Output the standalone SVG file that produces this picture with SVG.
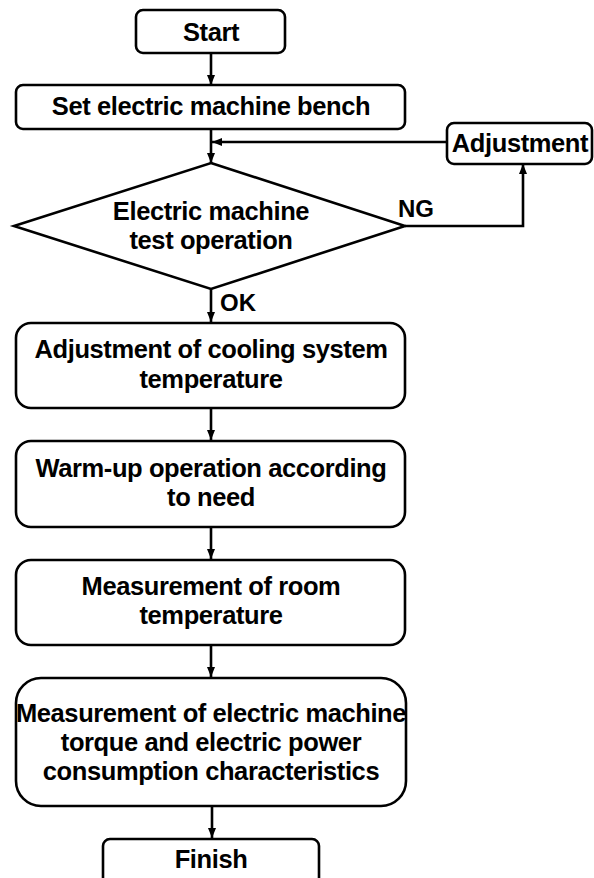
<svg xmlns="http://www.w3.org/2000/svg" width="594" height="878" viewBox="0 0 594 878">
<defs>
<marker id="ah" markerWidth="10" markerHeight="10" viewBox="0 0 10 10" refX="10" refY="5" orient="auto" markerUnits="userSpaceOnUse">
<path d="M0,1 L10,5 L0,9 Z" fill="#000"/>
</marker>
</defs>
<style>
.box{fill:#fff;stroke:#000;stroke-width:2.6}
.t{font-family:"Liberation Sans",Arial,sans-serif;font-weight:bold;font-size:25.5px;letter-spacing:-0.4px;fill:#000;text-anchor:middle}
.l{font-family:"Liberation Sans",Arial,sans-serif;font-weight:bold;font-size:24px;fill:#000}
.c{fill:none;stroke:#000;stroke-width:2.6;marker-end:url(#ah)}
</style>
<rect width="594" height="878" fill="#fff"/>
<g id="connectors">
<line class="c" x1="211" y1="53" x2="211" y2="85"/>
<line class="c" x1="211" y1="129" x2="211" y2="163"/>
<line class="c" x1="447" y1="142" x2="212" y2="142"/>
<polyline class="c" points="405,226 523,226 523,164"/>
<line class="c" x1="211" y1="289" x2="211" y2="322"/>
<line class="c" x1="211" y1="408" x2="211" y2="440"/>
<line class="c" x1="211" y1="527" x2="211" y2="559"/>
<line class="c" x1="211" y1="645" x2="211" y2="677"/>
<line class="c" x1="212" y1="806" x2="212" y2="838"/>
<text class="l" x="398" y="217">NG</text>
<text class="l" x="220" y="311">OK</text>
</g>
<g id="start">
<rect class="box" x="136" y="10" width="149" height="43" rx="7"/>
<text class="t" x="211" y="41">Start</text>
</g>
<g id="set-bench">
<rect class="box" x="16" y="85" width="389" height="44" rx="7"/>
<text class="t" x="211" y="115">Set electric machine bench</text>
</g>
<g id="adjustment">
<rect class="box" x="447" y="123" width="145" height="41" rx="7"/>
<text class="t" x="520" y="152">Adjustment</text>
</g>
<g id="test-operation">
<polygon class="box" points="211,163 405,226 211,289 14,226"/>
<text class="t" x="211" y="220">Electric machine</text>
<text class="t" x="211" y="249">test operation</text>
</g>
<g id="cooling">
<rect class="box" x="16" y="323" width="389" height="85" rx="15"/>
<text class="t" x="211" y="358">Adjustment of cooling system</text>
<text class="t" x="211" y="388">temperature</text>
</g>
<g id="warmup">
<rect class="box" x="16" y="441" width="389" height="86" rx="15"/>
<text class="t" x="211" y="477">Warm-up operation according</text>
<text class="t" x="211" y="506">to need</text>
</g>
<g id="room-temp">
<rect class="box" x="16" y="560" width="389" height="85" rx="15"/>
<text class="t" x="211" y="595">Measurement of room</text>
<text class="t" x="211" y="624">temperature</text>
</g>
<g id="measurement">
<rect class="box" x="16" y="678" width="390" height="128" rx="25"/>
<text class="t" x="211" y="722">Measurement of electric machine</text>
<text class="t" x="211" y="751">torque and electric power</text>
<text class="t" x="211" y="780">consumption characteristics</text>
</g>
<g id="finish">
<rect class="box" x="103" y="839" width="216" height="50" rx="7"/>
<text class="t" x="211" y="868">Finish</text>
</g>
</svg>
